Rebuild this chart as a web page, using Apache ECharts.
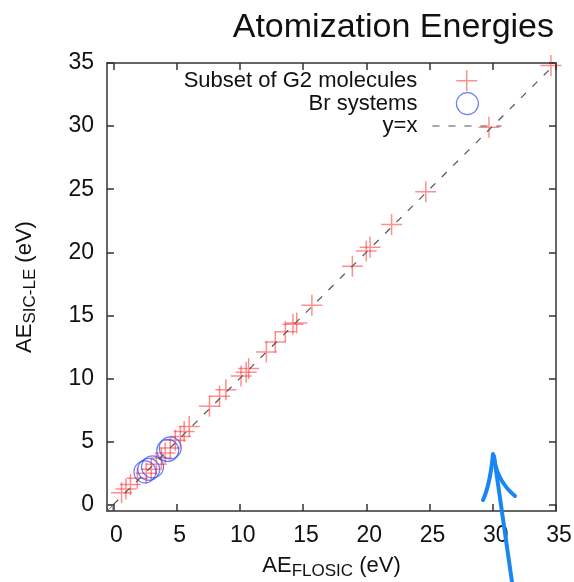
<!DOCTYPE html>
<html>
<head>
<meta charset="utf-8">
<script src="https://cdn.jsdelivr.net/npm/echarts@6/dist/echarts.min.js"></script>
<style>
html,body{margin:0;padding:0;background:#fff;}
#chart{width:574px;height:582px;}
</style>
</head>
<body>
<div id="chart"></div>
<script>
const titleText = 'Atomization Energies';
const xTicks = [0, 5, 10, 15, 20, 25, 30, 35];
const yTicks = [0, 5, 10, 15, 20, 25, 30, 35];
const axisMin = -0.5;
const axisMax = 35;

const g2Name = 'Subset of G2 molecules';
const g2X = [0.65, 1.0, 1.35, 1.9, 2.6, 3.0, 3.4, 3.8, 4.1, 4.5, 4.9, 5.3, 5.6, 6.0, 7.6, 8.4, 8.9, 10.1, 10.5, 10.7, 12.1, 12.8, 13.6, 14.2, 14.5, 15.7, 18.9, 20.0, 20.3, 22.0, 24.7, 29.7, 34.6];
const g2Y = [0.95, 1.25, 1.6, 2.1, 2.5, 2.8, 3.2, 3.7, 4.1, 4.5, 5.1, 5.4, 5.8, 6.2, 7.8, 8.6, 9.1, 10.2, 10.5, 10.8, 12.1, 12.9, 13.7, 14.3, 14.4, 15.8, 18.9, 20.1, 20.4, 22.2, 24.8, 29.9, 34.8];

const brName = 'Br systems';
const brX = [2.5, 2.8, 3.1, 4.3, 4.5];
const brY = [2.6, 2.8, 3.0, 4.3, 4.5];

const lineName = 'y=x';
const lineX = [0, 35];

const plusPath = 'path://M0,10.5L21,10.5M10.5,0L10.5,21';
const red = 'rgba(255,20,20,0.6)';
const blue = 'rgba(40,70,245,0.85)';
const dashColor = '#555';

const chart = echarts.init(document.getElementById('chart'), null, {renderer: 'canvas'});

const tickCommon = {show: true, inside: true, length: 7, lineStyle: {color: '#333', width: 1.5}};
const lineCommon = {show: true, onZero: false, lineStyle: {color: '#333', width: 1.5}};
const font = 'Liberation Sans, Arial, Helvetica, sans-serif';

const option = {
  animation: false,
  backgroundColor: '#fff',
  textStyle: {fontFamily: font},
  title: {
    text: titleText,
    right: 20,
    top: 11,
    padding: 0,
    textStyle: {fontSize: 34, fontWeight: 'normal', color: '#111', fontFamily: font}
  },
  grid: {left: 107, right: 18, top: 63, bottom: 71, containLabel: false, outerBoundsMode: 'none'},
  legend: [
    {
      data: [g2Name], right: 96, top: 69.5, padding: 0, orient: 'vertical', align: 'right',
      itemWidth: 21, itemHeight: 21, selectedMode: false,
      itemStyle: {color: 'rgba(0,0,0,0)', borderColor: red, borderWidth: 1.5},
      textStyle: {fontSize: 22, color: '#111', fontFamily: font, padding: [0, 34, 0, 0]}
    },
    {
      data: [brName], right: 95, top: 92, padding: 0, orient: 'vertical', align: 'right',
      itemWidth: 22, itemHeight: 22, selectedMode: false,
      itemStyle: {color: 'rgba(0,0,0,0)', borderColor: blue, borderWidth: 1.2},
      textStyle: {fontSize: 22, color: '#111', fontFamily: font, padding: [0, 34, 0, 0]}
    },
    {
      data: [lineName], right: 72, top: 115, padding: 0, orient: 'vertical', align: 'right',
      itemWidth: 69, itemHeight: 22, selectedMode: false,
      itemStyle: {color: 'rgba(0,0,0,0)', borderColor: 'rgba(0,0,0,0)', borderWidth: 0, opacity: 0},
      lineStyle: {color: dashColor, width: 1.2, type: [7, 9], opacity: 1},
      textStyle: {fontSize: 22, color: '#111', fontFamily: font, padding: [0, 10, 0, 0]}
    }
  ],
  xAxis: [
    {
      type: 'value', position: 'bottom', min: axisMin, max: axisMax,
      axisLine: lineCommon,
      axisTick: Object.assign({customValues: xTicks}, tickCommon),
      axisLabel: {customValues: xTicks, fontSize: 23, color: '#111', margin: 13, fontFamily: font, padding: [0, 0, 0, 6]},
      splitLine: {show: false},
      name: '{a|AE}{s|FLOSIC}{a| (eV)}',
      nameLocation: 'middle',
      nameGap: 40,
      nameTextStyle: {
        color: '#111',
        rich: {
          a: {fontSize: 22, color: '#111', fontFamily: font},
          s: {fontSize: 17, color: '#111', fontFamily: font, padding: [12, 0, 0, 0]}
        }
      }
    },
    {
      type: 'value', position: 'top', min: axisMin, max: axisMax,
      axisLine: lineCommon,
      axisTick: Object.assign({customValues: xTicks}, tickCommon),
      axisLabel: {show: false},
      splitLine: {show: false}
    }
  ],
  yAxis: [
    {
      type: 'value', position: 'left', min: axisMin, max: axisMax,
      axisLine: lineCommon,
      axisTick: Object.assign({customValues: yTicks}, tickCommon),
      axisLabel: {customValues: yTicks, fontSize: 23, color: '#111', margin: 13, fontFamily: font},
      splitLine: {show: false},
      name: '{a|AE}{s|SIC-LE}{a| (eV)}',
      nameLocation: 'middle',
      nameGap: 68,
      nameRotate: 90,
      nameTextStyle: {
        color: '#111',
        rich: {
          a: {fontSize: 22, color: '#111', fontFamily: font},
          s: {fontSize: 17, color: '#111', fontFamily: font, padding: [12, 0, 0, 0]}
        }
      }
    },
    {
      type: 'value', position: 'right', min: axisMin, max: axisMax,
      axisLine: lineCommon,
      axisTick: Object.assign({customValues: yTicks}, tickCommon),
      axisLabel: {show: false},
      splitLine: {show: false}
    }
  ],
  series: [
    {
      name: g2Name,
      type: 'scatter',
      xAxisIndex: 0, yAxisIndex: 0,
      symbol: plusPath,
      symbolSize: 21,
      itemStyle: {color: 'rgba(0,0,0,0)', borderColor: red, borderWidth: 1.5},
      emphasis: {disabled: true},
      data: g2X.map((x, i) => [x, g2Y[i]])
    },
    {
      name: brName,
      type: 'scatter',
      xAxisIndex: 0, yAxisIndex: 0,
      symbol: 'circle',
      symbolSize: 22,
      itemStyle: {color: 'rgba(0,0,0,0)', borderColor: blue, borderWidth: 1.2},
      emphasis: {disabled: true},
      data: brX.map((x, i) => [x, brY[i]])
    },
    {
      name: lineName,
      type: 'line',
      xAxisIndex: 0, yAxisIndex: 0,
      symbol: 'none',
      itemStyle: {color: dashColor},
      lineStyle: {color: dashColor, width: 1.2, type: [7, 9]},
      emphasis: {disabled: true},
      data: lineX.map(v => [v, v])
    }
  ],
  graphic: [
    {type: 'rect', shape: {x: 220, y: 44, width: 345, height: 8}, style: {fill: '#fff'}, z: 200},
    {type: 'rect', shape: {x: 107, y: 504.5, width: 6, height: 6.5}, style: {fill: 'none', stroke: '#555', lineWidth: 1}, z: 50},
    {type: 'line', shape: {x1: 108, y1: 510, x2: 112, y2: 506}, style: {stroke: '#777', lineWidth: 1}, z: 50},
    {type: 'line', shape: {x1: 512, y1: 582, x2: 494, y2: 456}, style: {stroke: '#1a86f2', lineWidth: 4, lineCap: 'round'}, z: 200},
    {type: 'bezierCurve', shape: {x1: 483, y1: 500, x2: 493, y2: 454, cpx1: 490, cpy1: 485}, style: {stroke: '#1a86f2', lineWidth: 4, lineCap: 'round', fill: null}, z: 200},
    {type: 'bezierCurve', shape: {x1: 494, y1: 459, x2: 515, y2: 496, cpx1: 498, cpy1: 482}, style: {stroke: '#1a86f2', lineWidth: 4, lineCap: 'round', fill: null}, z: 200}
  ]
};
chart.setOption(option);
</script>
</body>
</html>
